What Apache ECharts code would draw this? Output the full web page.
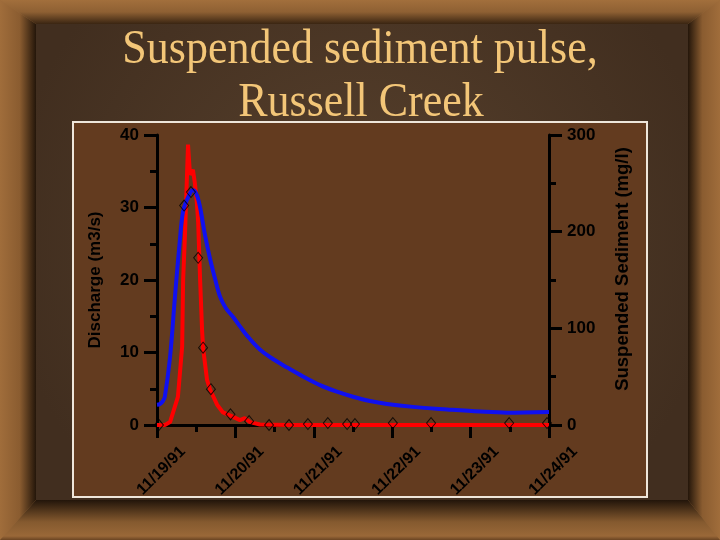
<!DOCTYPE html>
<html>
<head>
<meta charset="utf-8">
<script src="https://cdn.jsdelivr.net/npm/echarts@6/dist/echarts.min.js"></script>
<style>
html,body{margin:0;padding:0;background:#9C6B3A;}
#chart{width:720px;height:540px;}
</style>
</head>
<body>
<div id="chart"></div>
<script>
// ---- data (hours after 11/19/91 00:00) ----
const tickLabels = ['11/19/91', '11/20/91', '11/21/91', '11/22/91', '11/23/91', '11/24/91'];

const dischargeHours  = [0, 0.9, 1.8, 2.4, 4.0, 5.5, 7.0, 8.0, 9.5, 11.0, 12.2, 13.2, 14.7, 16.2, 17.75, 19.3, 21.1, 23.3, 25.4, 27.6, 31.5, 35.5, 39.8, 44.7, 49.9, 55.1, 60.0, 65.2, 70.4, 78.4, 88.8, 98.9, 107.1, 120];
const dischargeValues = [2.8, 2.9, 3.3, 3.9, 9.4, 17.7, 25.5, 29.5, 31.4, 32.4, 31.7, 30.0, 26.2, 23.0, 20.2, 17.7, 16.1, 14.9, 13.6, 12.3, 10.4, 9.1, 7.95, 6.7, 5.5, 4.6, 3.9, 3.3, 2.9, 2.5, 2.15, 1.85, 1.7, 1.8];

const sedimentHours  = [0, 2.4, 4.0, 4.6, 6.4, 7.7, 8.0, 8.6, 9.5, 10.1, 11.0, 11.6, 12.2, 12.6, 13.2, 13.8, 14.1, 15.3, 16.2, 18.4, 20.2, 22.3, 25.4, 26.9, 28.5, 31.5, 40, 60, 80, 100, 120];
const sedimentValues = [0, 0, 3, 5, 29, 81, 150, 200, 290, 259, 264, 250, 230, 210, 150, 98, 80, 47, 37, 21, 13, 10, 5, 7, 3, 0.5, 0, 0, 0, 0, 0];

const sampleHours  = [0.6, 8.3, 10.4, 12.6, 14.1, 16.5, 22.5, 28.2, 34.3, 40.4, 46.2, 52.3, 58.2, 60.6, 72.2, 83.9, 107.8, 119.4];
const sampleValues = [0, 227, 241, 173, 80, 37, 11, 4, 0, 0, 1, 2, 1, 1, 2, 2, 2, 2];

const leftAxisName = 'Discharge (m3/s)';
const rightAxisName = 'Suspended Sediment (mg/l)';
const titleLines = ['Suspended sediment pulse,', 'Russell Creek'];

// ---- chart ----
const chart = echarts.init(document.getElementById('chart'), null, {renderer: 'canvas'});
const zip = (xs, ys) => xs.map((x, i) => [x, ys[i]]);
const FONT = '"Liberation Sans", Arial, sans-serif';

const axisCommon = {
  axisLine: {show: true, onZero: false, lineStyle: {color: '#000', width: 3}},
  axisTick: {show: true, length: 13, lineStyle: {color: '#000', width: 3}},
  minorTick: {show: true, splitNumber: 2, length: 7, lineStyle: {color: '#000', width: 3}},
  splitLine: {show: false},
  minorSplitLine: {show: false}
};

chart.setOption({
  animation: false,
  backgroundColor: '#9C6B3A',
  graphic: [
    // frame bevels
    {type: 'polygon', z: -20, shape: {points: [[0,0],[720,0],[688,24],[36,24]]},
      style: {fill: {type: 'linear', x: 0, y: 0, x2: 0, y2: 1, colorStops: [
        {offset: 0, color: '#A26F3C'}, {offset: 0.5, color: '#8E6033'}, {offset: 1, color: '#3A2512'}]}}},
    {type: 'polygon', z: -20, shape: {points: [[0,0],[36,24],[36,500],[0,540]]},
      style: {fill: {type: 'linear', x: 0, y: 0, x2: 1, y2: 0, colorStops: [
        {offset: 0, color: '#A06D3B'}, {offset: 0.55, color: '#8A5C30'}, {offset: 1, color: '#24160A'}]}}},
    {type: 'polygon', z: -20, shape: {points: [[720,0],[688,24],[688,500],[720,540]]},
      style: {fill: {type: 'linear', x: 0, y: 0, x2: 1, y2: 0, colorStops: [
        {offset: 0, color: '#24160A'}, {offset: 0.45, color: '#8A5C30'}, {offset: 1, color: '#A06D3B'}]}}},
    {type: 'polygon', z: -20, shape: {points: [[0,540],[36,500],[688,500],[720,540]]},
      style: {fill: {type: 'linear', x: 0, y: 0, x2: 0, y2: 1, colorStops: [
        {offset: 0, color: '#22150A'}, {offset: 0.55, color: '#855A2F'}, {offset: 0.9, color: '#9A6838'}, {offset: 1, color: '#6A4422'}]}}},
    // marble area
    {type: 'rect', z: -19, shape: {x: 36, y: 24, width: 652, height: 476},
      style: {fill: {type: 'radial', x: 0.5, y: 0.45, r: 0.75, colorStops: [
        {offset: 0, color: '#58412D'}, {offset: 1, color: '#412E1F'}]}}},
    // chart panel
    {type: 'rect', z: -18, shape: {x: 73, y: 122, width: 574, height: 375},
      style: {fill: '#633B1F', stroke: '#EFE6DA', lineWidth: 2}},
    // title
    {type: 'text', z: 10, x: 360, y: 50, scaleY: 1.1,
      style: {text: titleLines[0], fontFamily: '"Liberation Serif", "Times New Roman", serif', fontSize: 44,
        fill: '#F3C678', align: 'center', verticalAlign: 'middle'}},
    {type: 'text', z: 10, x: 361, y: 103, scaleY: 1.1,
      style: {text: titleLines[1], fontFamily: '"Liberation Serif", "Times New Roman", serif', fontSize: 44,
        fill: '#F3C678', align: 'center', verticalAlign: 'middle'}}
  ],
  grid: {left: 157, right: 171, top: 135, bottom: 115, containLabel: false},
  xAxis: Object.assign({
    type: 'value', min: 0, max: 120, interval: 24,
    axisLabel: {
      show: true, rotate: 45, align: 'center', verticalAlign: 'middle', margin: 50,
      padding: [0, 0, 0, 12],
      color: '#000', fontSize: 16, fontWeight: 'bold', fontFamily: FONT,
      formatter: v => tickLabels[Math.round(v / 24)] || ''
    }
  }, axisCommon),
  yAxis: [
    Object.assign({
      type: 'value', position: 'left', min: 0, max: 40, interval: 10,
      name: leftAxisName, nameLocation: 'middle', nameRotate: 90, nameGap: 53,
      nameTextStyle: {color: '#000', fontSize: 17, fontWeight: 'bold', fontFamily: FONT},
      axisLabel: {color: '#000', fontSize: 17, fontWeight: 'bold', fontFamily: FONT, margin: 18}
    }, axisCommon),
    Object.assign({
      type: 'value', position: 'right', min: 0, max: 300, interval: 100,
      name: rightAxisName, nameLocation: 'middle', nameRotate: 90, nameGap: 64,
      nameTextStyle: {color: '#000', fontSize: 18.5, fontWeight: 'bold', fontFamily: FONT, padding: [0, 0, 0, 22]},
      axisLabel: {color: '#000', fontSize: 17, fontWeight: 'bold', fontFamily: FONT, margin: 18}
    }, axisCommon)
  ],
  series: [
    {
      type: 'line', name: 'Sediment', yAxisIndex: 1, data: zip(sedimentHours, sedimentValues),
      showSymbol: false, symbol: 'none', clip: false, z: 3,
      lineStyle: {color: '#FF0000', width: 4}
    },
    {
      type: 'line', name: 'Discharge', yAxisIndex: 0, data: zip(dischargeHours, dischargeValues),
      showSymbol: false, symbol: 'none', smooth: 0.35, clip: false, z: 4,
      lineStyle: {color: '#1010F0', width: 4}
    },
    {
      type: 'scatter', name: 'Samples', yAxisIndex: 1, data: zip(sampleHours, sampleValues),
      symbol: 'diamond', symbolSize: [9, 11], z: 5,
      itemStyle: {color: 'rgba(0,0,0,0)', borderColor: '#000', borderWidth: 1}
    }
  ]
});
</script>
</body>
</html>
